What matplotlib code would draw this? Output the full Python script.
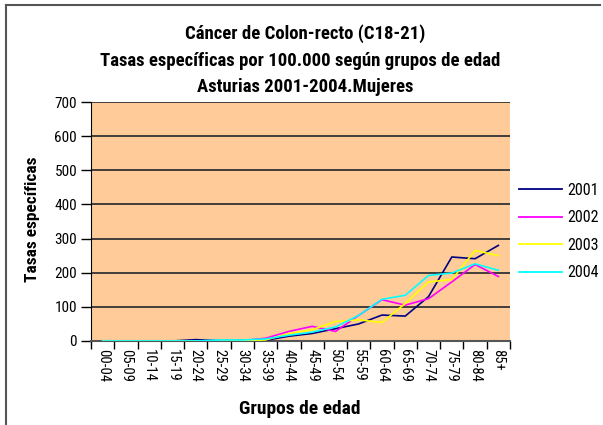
import matplotlib
matplotlib.use("Agg")
import matplotlib.pyplot as plt
from matplotlib.lines import Line2D
from matplotlib import font_manager

grupos = ["00-04", "05-09", "10-14", "15-19", "20-24", "25-29", "30-34", "35-39",
          "40-44", "45-49", "50-54", "55-59", "60-64", "65-69", "70-74", "75-79",
          "80-84", "85+"]
anios = ["2001", "2002", "2003", "2004"]
tasas_2001 = [0, 0, 0, 0, 4, 1, 1, 2, 14, 22, 36, 50, 76, 73, 130, 246, 241, 280]
tasas_2002 = [0, 0, 0, 0, 0, 0, 1, 8, 28, 43, 28, 75, 121, 105, 124, 173, 224, 189]
tasas_2003 = [0, 0, 0, 0, 0, 0, 1, 3, 22, 33, 57, 62, 54, 110, 173, 180, 265, 250]
tasas_2004 = [0, 0, 0, 0, 0, 3, 3, 6, 17, 26, 41, 75, 122, 134, 192, 199, 226, 207]
colores = ["#000080", "#FF00FF", "#FFFF00", "#00FFFF"]
yticks = [0, 100, 200, 300, 400, 500, 600, 700]

# prefer a narrow/condensed sans if one is installed
names = {f.name for f in font_manager.fontManager.ttflist}
narrow = [n for n in ["Liberation Sans Narrow", "Arial Narrow", "DejaVu Sans Condensed",
                      "Roboto Condensed", "Open Sans Condensed"] if n in names]
FONT = narrow[:1] + ["Liberation Sans", "DejaVu Sans"]
plt.rcParams["font.family"] = FONT

W, H = 603, 425
fig = plt.figure(figsize=(W / 100, H / 100), dpi=100)
fig.patch.set_facecolor("white")

L, R, T, B = 91, 510, 102, 341
ax = fig.add_axes([L / W, 1 - B / H, (R - L) / W, (B - T) / H])
ax.set_facecolor("#FFCC99")

x = [i + 0.5 for i in range(len(grupos))]
series = [tasas_2001, tasas_2002, tasas_2003, tasas_2004]
for vals, col, lab in zip(series, colores, anios):
    ax.plot(x, vals, color=col, lw=1.2, label=lab, zorder=3)

ax.set_xlim(0, len(grupos))
ax.set_ylim(0, 700)
ax.set_yticks(yticks)
ax.set_yticklabels([str(v) for v in yticks], fontsize=11)
ax.set_xticks(range(len(grupos) + 1))
ax.set_xticklabels([])
ax.set_xticks(x, minor=True)
ax.set_xticklabels(grupos, minor=True, rotation=-90, fontsize=10.5, va="top", ha="center")
ax.tick_params(axis="x", which="minor", length=0, pad=6)
ax.tick_params(axis="x", which="major", length=6, width=1, color="black", direction="out")
ax.tick_params(axis="y", length=7, width=1, color="black", direction="out", pad=3)

ax.grid(axis="y", color="#333333", lw=1.3, zorder=1)
ax.set_axisbelow(True)
for s in ["top", "right"]:
    ax.spines[s].set_visible(False)
ax.spines["left"].set_color("black")
ax.spines["bottom"].set_color("#555555")
ax.spines["bottom"].set_linewidth(1.5)

tkw = dict(ha="center", va="center", fontsize=13.5, fontweight="bold")
fig.text(305 / W, 1 - 34 / H, "Cáncer de Colon-recto (C18-21)", **tkw)
fig.text(300 / W, 1 - 61 / H, "Tasas específicas por 100.000 según grupos de edad", **tkw)
fig.text(305 / W, 1 - 87 / H, "Asturias 2001-2004.Mujeres", **tkw)
fig.text(300 / W, 1 - 409 / H, "Grupos de edad", ha="center", va="center",
         fontsize=14, fontweight="bold")
fig.text(32 / W, 1 - 219 / H, "Tasas específicas", ha="center", va="center",
         rotation=90, fontsize=12.5, fontweight="bold")

handles = [Line2D([0], [0], color=c, lw=1.3) for c in colores]
leg = fig.legend(handles, anios, loc="upper left", bbox_to_anchor=(519 / W, 1 - 183 / H),
                 frameon=False, fontsize=11.5, handlelength=2.7, handletextpad=0.3,
                 labelspacing=0.78, borderpad=0, borderaxespad=0)

fig.add_artist(Line2D([6 / W, 6 / W], [0, 1 - 5 / H], color="#555555", lw=1.5,
                      transform=fig.transFigure))
fig.add_artist(Line2D([6 / W, 600 / W], [1 - 5 / H, 1 - 5 / H], color="#555555", lw=1.5,
                      transform=fig.transFigure))

fig.savefig("out.png", dpi=100)
